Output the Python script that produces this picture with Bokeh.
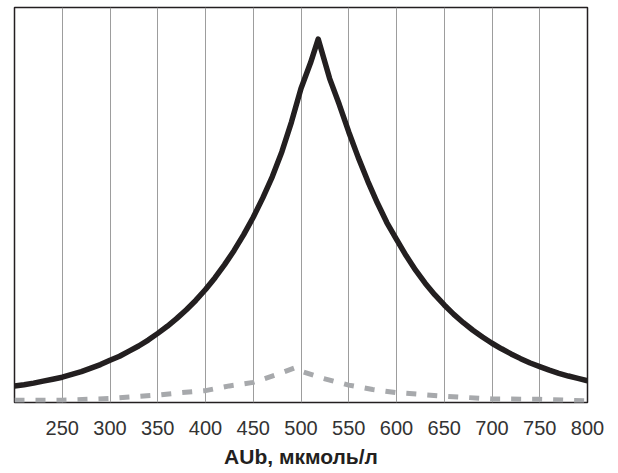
from bokeh.plotting import figure
from bokeh.models import FixedTicker, Range1d, Title
from bokeh.embed import file_html
from bokeh.resources import INLINE

# Solid black curve
solid_x = [200, 210, 220, 230, 240, 250, 260, 270, 280, 290,
           300, 310, 320, 330, 340, 350, 360, 370, 380, 390,
           400, 410, 420, 430, 440, 450, 460, 470, 480, 490,
           500, 510, 518, 530, 540, 550, 560, 570, 580, 590,
           600, 610, 620, 630, 640, 650, 660, 670, 680, 690,
           700, 710, 720, 730, 740, 750, 760, 770, 780, 790, 800]
solid_y = [4.2, 4.5, 4.9, 5.4, 5.9, 6.4, 7.1, 7.8, 8.7, 9.6,
           10.7, 11.7, 13.0, 14.3, 15.8, 17.5, 19.3, 21.3, 23.5, 25.9,
           28.6, 31.6, 34.9, 38.5, 42.5, 46.9, 51.8, 57.2, 63.5, 71.0,
           79.5, 86.0, 92.0, 82.0, 75.5, 68.5, 62.0, 56.0, 50.5, 45.5,
           41.3, 37.2, 33.5, 30.2, 27.3, 24.7, 22.3, 20.2, 18.3, 16.6,
           15.0, 13.6, 12.3, 11.1, 10.0, 9.1, 8.2, 7.4, 6.7, 6.1, 5.5]

# Gray dashed curve
dash_x = [200, 250, 300, 350, 375, 400, 425, 450, 475, 494, 500, 525, 550, 575, 600, 650, 700, 750, 800]
dash_y = [0.6, 0.6, 1.0, 1.9, 2.5, 3.0, 4.2, 5.1, 7.1, 8.8, 7.9, 6.0, 4.4, 3.3, 2.5, 1.6, 0.9, 0.8, 0.4]

x_ticks = [250, 300, 350, 400, 450, 500, 550, 600, 650, 700, 750, 800]
x_title = "AUb, мкмоль/л"

p = figure(width=618, height=473, output_backend="svg", toolbar_location=None,
           x_range=Range1d(200, 800), y_range=Range1d(0, 100),
           min_border_left=14, min_border_right=31, min_border_top=7, min_border_bottom=0)

p.background_fill_color = "white"
p.border_fill_color = "white"
p.outline_line_color = "#231f20"
p.outline_line_width = 1.5

p.yaxis.visible = False
p.ygrid.visible = False

p.xaxis.ticker = FixedTicker(ticks=x_ticks)
p.xgrid.ticker = FixedTicker(ticks=x_ticks)
p.xgrid.grid_line_color = "#9d9d9d"
p.xgrid.grid_line_width = 1

ax = p.xaxis[0]
ax.axis_line_color = None
ax.major_tick_line_color = None
ax.minor_tick_line_color = None
ax.major_tick_in = 0
ax.major_tick_out = 0
ax.minor_tick_in = 0
ax.minor_tick_out = 0
ax.major_label_standoff = 18
ax.major_label_text_font = "Liberation Sans"
ax.major_label_text_font_size = "20px"
ax.major_label_text_color = "#333333"

p.add_layout(Title(text=x_title, align="center", standoff=11, offset=0,
                   text_font="Liberation Sans", text_font_style="bold",
                   text_font_size="21px", text_color="#231f20"), "below")

p.line(dash_x, dash_y, line_color="#a7a9ac", line_width=5, line_dash="10 11")
p.line(solid_x, solid_y, line_color="#231f20", line_width=5.5, line_join="round")

open("out.html", "w").write(file_html(p, INLINE))
